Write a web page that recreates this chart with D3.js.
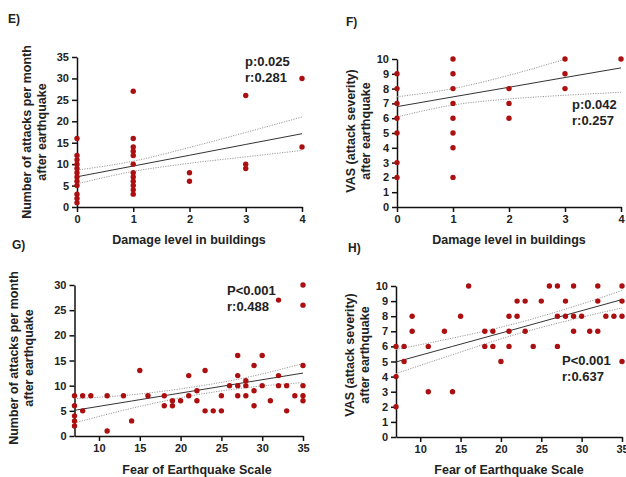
<!DOCTYPE html>
<html>
<head>
<meta charset="utf-8">
<script src="https://cdn.jsdelivr.net/npm/d3@7"></script>
<style>
  body { margin: 0; background: #fff; }
  svg { display: block; font-family: "Liberation Sans", Arial, sans-serif; }
  .tick text { font-size: 11px; font-weight: bold; fill: #222; }
  .axis path, .axis line { stroke: #111; stroke-width: 1.5; }
  .axis-title { font-size: 12.5px; font-weight: bold; fill: #222; }
  .panel-label { font-size: 12px; font-weight: bold; fill: #222; }
  .stat { font-size: 13px; font-weight: bold; fill: #222; }
</style>
</head>
<body>
<div id="chart"></div>
<script>
// E) damage level vs attacks per month
const damageE = [0,0,0,0,0,0,0,0,0,0,0,0, 1,1,1,1,1,1,1,1,1,1,1,1, 2,2, 3,3,3, 4,4];
const attacksE = [16,12,11,10,9,8,7,6,5,3,2,1, 27,16,14,13,12,10,8,7,6,5,4,3, 8,6, 26,10,9, 30,14];
const fitXE = [0, 1, 2, 3, 4];
const fitE = [7.05, 9.56, 12.07, 14.6, 17.1];
const upperE = [8.6, 10.7, 13.9, 17.4, 21.0];
const lowerE = [5.4, 8.3, 10.2, 11.7, 13.2];

// F) damage level vs VAS
const damageF = [0,0,0,0,0,0,0, 1,1,1,1,1,1,1,1, 2,2,2, 3,3,3, 4];
const vasF = [9,8,7,6,5,3,2, 10,9,8,7,6,5,4,2, 8,7,6, 10,9,8, 10];
const fitXF = [0, 1, 2, 3, 4];
const fitF = [6.78, 7.44, 8.09, 8.75, 9.4];
const upperF = [7.45, 8.0, 8.9, 9.98, 11.05];
const lowerF = [6.08, 6.89, 7.3, 7.55, 7.75];

// G) fear of earthquake scale vs attacks per month
const fearG = [7,7,7,7,7, 8,8, 9, 11,11, 13, 14, 15, 16, 18,18, 19,19, 20, 21,21, 22,22, 23,23, 24, 25,25, 26,
  27,27,27,27, 28,28,28, 29,29,29, 30,30, 31, 32,32,32, 33,33, 34, 35,35,35,35,35,35];
const attacksG = [8,6,4,3,2, 8,5, 8, 8,1, 8, 3, 13, 8, 8,6, 7,6, 7, 12,8, 9,7, 13,5, 5, 8,5, 10,
  16,12,10,8, 11,10,8, 14,9,6, 16,10, 7, 27,12,10, 10,5, 8, 30,26,14,10,8,7];
const fitXG = [7, 14, 21, 28, 35];
const fitG = [5.1, 6.95, 8.8, 10.65, 12.5];
const upperG = [7.4, 8.2, 9.6, 11.6, 14.4];
const lowerG = [2.6, 5.5, 7.9, 9.6, 10.6];

// H) fear of earthquake scale vs VAS
const fearH = [7,7,7, 8,8, 9,9, 11,11, 13, 14, 15, 16, 18,18, 19,19, 20, 21,21,21, 22,22, 23,23, 24, 25, 26,
  27,27,27, 28,28, 29,29,29, 30, 31, 32,32,32, 33, 34, 35,35,35,35];
const vasH = [6,4,2, 6,5, 8,7, 6,3, 7, 3, 8, 10, 7,6, 7,6, 5, 8,7,6, 9,8, 9,7, 6, 9, 10,
  10,8,6, 9,8, 10,8,7, 8, 7, 10,9,7, 8, 8, 10,9,8,5];
const fitXH = [7, 14, 21, 28, 35];
const fitH = [4.97, 6.0, 7.03, 8.07, 9.1];
const upperH = [5.8, 6.55, 7.4, 8.47, 9.7];
const lowerH = [4.2, 5.45, 6.66, 7.67, 8.55];

const damageTicks = [0, 1, 2, 3, 4];
const fearTicks = [10, 15, 20, 25, 30, 35];
const attacksTicksE = d3.range(0, 36, 5);
const attacksTicksG = d3.range(0, 31, 5);
const vasTicks = d3.range(0, 11, 1);

const attacksTitle = ['Number of attacks per month', 'after earthquake'];
const vasTitle = ['VAS (attack severity)', 'after earthquake'];

const panels = [
  { label: 'E)', labelPos: [8, 23], xs: damageE, ys: attacksE, fx: fitXE, fit: fitE, up: upperE, lo: lowerE,
    xDomain: [0, 4], yDomain: [0, 35], xTicks: damageTicks, yTicks: attacksTicksE,
    left: 77, right: 302, top: 57, bottom: 207,
    xTitle: 'Damage level in buildings', xTitlePos: [189, 244],
    yTitle: attacksTitle, yTitlePos: [27, 132],
    stats: ['p:0.025', 'r:0.281'], statPos: [245, 66] },
  { label: 'F)', labelPos: [346, 26], xs: damageF, ys: vasF, fx: fitXF, fit: fitF, up: upperF, lo: lowerF,
    xDomain: [0, 4], yDomain: [0, 10], xTicks: damageTicks, yTicks: vasTicks,
    left: 397, right: 621, top: 59, bottom: 207,
    xTitle: 'Damage level in buildings', xTitlePos: [509, 244],
    yTitle: vasTitle, yTitlePos: [351, 131],
    stats: ['p:0.042', 'r:0.257'], statPos: [572, 109] },
  { label: 'G)', labelPos: [12, 249], xs: fearG, ys: attacksG, fx: fitXG, fit: fitG, up: upperG, lo: lowerG,
    xDomain: [7, 35], yDomain: [0, 30], xTicks: fearTicks, yTicks: attacksTicksG,
    left: 74.5, right: 303, top: 285, bottom: 436,
    xTitle: 'Fear of Earthquake Scale', xTitlePos: [197, 474],
    yTitle: attacksTitle, yTitlePos: [14, 358],
    stats: ['P<0.001', 'r:0.488'], statPos: [227, 295] },
  { label: 'H)', labelPos: [348, 252], xs: fearH, ys: vasH, fx: fitXH, fit: fitH, up: upperH, lo: lowerH,
    xDomain: [7, 35], yDomain: [0, 10], xTicks: fearTicks, yTicks: vasTicks,
    left: 396, right: 622, top: 286, bottom: 437,
    xTitle: 'Fear of Earthquake Scale', xTitlePos: [509, 474],
    yTitle: vasTitle, yTitlePos: [350, 355],
    stats: ['P<0.001', 'r:0.637'], statPos: [562, 365] }
];

const svg = d3.select('#chart').append('svg')
    .attr('width', 626)
    .attr('height', 477);

svg.append('rect').attr('width', 626).attr('height', 477).attr('fill', '#fff');

const fmt = d3.format('d');

panels.forEach((p, i) => {
  const x = d3.scaleLinear().domain(p.xDomain).range([p.left, p.right]);
  const y = d3.scaleLinear().domain(p.yDomain).range([p.bottom, p.top]);
  const g = svg.append('g');

  // clip for the regression lines so bands stop at the top of the axis
  svg.append('clipPath').attr('id', 'clip' + i)
    .append('rect')
      .attr('x', p.left).attr('y', p.top)
      .attr('width', p.right - p.left).attr('height', p.bottom - p.top);

  g.append('g')
      .attr('class', 'axis')
      .attr('transform', `translate(0,${p.bottom})`)
      .call(d3.axisBottom(x).tickValues(p.xTicks).tickFormat(fmt)
        .tickSize(5).tickSizeOuter(0).tickPadding(3));

  g.append('g')
      .attr('class', 'axis')
      .attr('transform', `translate(${p.left},0)`)
      .call(d3.axisLeft(y).tickValues(p.yTicks).tickFormat(fmt)
        .tickSize(5).tickSizeOuter(0).tickPadding(3));

  const fitData = p.fx.map((v, k) => ({ x: v, fit: p.fit[k], up: p.up[k], lo: p.lo[k] }));
  const lines = g.append('g').attr('clip-path', `url(#clip${i})`);

  const band = key => d3.line().x(d => x(d.x)).y(d => y(d[key])).curve(d3.curveMonotoneX);

  ['up', 'lo'].forEach(key => {
    lines.append('path')
        .datum(fitData)
        .attr('d', band(key))
        .attr('fill', 'none')
        .attr('stroke', '#9a9a9a')
        .attr('stroke-width', 1)
        .attr('stroke-dasharray', '1.2,1.3');
  });

  lines.append('path')
      .datum(fitData)
      .attr('d', band('fit'))
      .attr('fill', 'none')
      .attr('stroke', '#333')
      .attr('stroke-width', 1);

  g.selectAll('.dot')
      .data(p.xs.map((v, k) => [v, p.ys[k]]))
    .join('circle')
      .attr('class', 'dot')
      .attr('cx', d => x(d[0]))
      .attr('cy', d => y(d[1]))
      .attr('r', 2.7)
      .attr('fill', '#ab0f0f');

  g.append('text')
      .attr('class', 'panel-label')
      .attr('x', p.labelPos[0]).attr('y', p.labelPos[1])
      .text(p.label);

  g.append('text')
      .attr('class', 'axis-title')
      .attr('text-anchor', 'middle')
      .attr('x', p.xTitlePos[0]).attr('y', p.xTitlePos[1])
      .text(p.xTitle);

  const yt = g.append('text')
      .attr('class', 'axis-title')
      .attr('text-anchor', 'middle')
      .attr('transform', `translate(${p.yTitlePos[0]},${p.yTitlePos[1]}) rotate(-90)`);
  p.yTitle.forEach((line, k) => {
    yt.append('tspan').attr('x', 0).attr('dy', k === 0 ? '0.35em' : '1.15em').text(line);
  });

  p.stats.forEach((s, k) => {
    g.append('text')
        .attr('class', 'stat')
        .attr('x', p.statPos[0]).attr('y', p.statPos[1] + k * 16)
        .text(s);
  });
});
</script>
</body>
</html>
